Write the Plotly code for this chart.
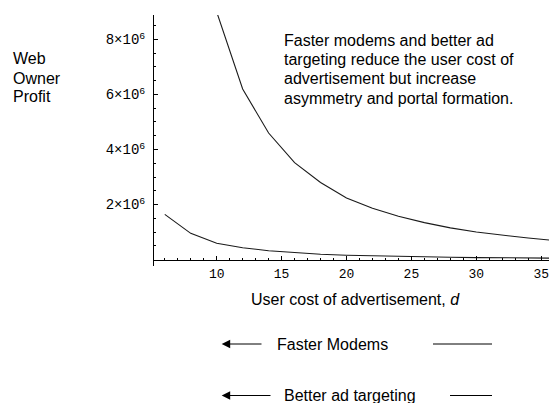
import plotly.graph_objects as go

# Data
d_upper = [10, 12, 14, 16, 18, 20, 22, 24, 26, 28, 30, 32, 34, 36]
profit_upper = [9.0e6, 6.2e6, 4.6e6, 3.52e6, 2.8e6, 2.24e6, 1.86e6, 1.57e6,
                1.34e6, 1.15e6, 1.0e6, 0.88e6, 0.78e6, 0.69e6]

d_lower = [6, 8, 10, 12, 14, 16, 18, 20, 22, 24, 26, 28, 30, 32, 34, 36]
profit_lower = [1.64e6, 0.95e6, 0.59e6, 0.43e6, 0.32e6, 0.25e6, 0.19e6, 0.155e6,
                0.13e6, 0.11e6, 0.095e6, 0.08e6, 0.07e6, 0.06e6, 0.055e6, 0.05e6]

x_ticks = [10, 15, 20, 25, 30, 35]
y_ticks = [2e6, 4e6, 6e6, 8e6]
y_ticktext = ["2×10<sup>6</sup>", "4×10<sup>6</sup>", "6×10<sup>6</sup>", "8×10<sup>6</sup>"]
x_minor = [v for v in range(6, 36) if v % 5 != 0]
y_minor = [v * 0.5e6 for v in range(1, 18) if v % 4 != 0]

W, H = 549, 403
def px(x):
    return x / W
def py(y):
    return 1 - y / H

fig = go.Figure()
fig.add_trace(go.Scatter(x=d_upper, y=profit_upper, mode="lines",
                         line=dict(color="#1a1a1a", width=1.1), showlegend=False))
fig.add_trace(go.Scatter(x=d_lower, y=profit_lower, mode="lines",
                         line=dict(color="#1a1a1a", width=1.1), showlegend=False))

xtickfont = dict(family="Liberation Mono", size=13, color="black")
ytickfont = dict(family="Liberation Mono", size=14, color="black")
textfont = dict(family="Liberation Sans, Arial", size=16, color="black")

zero_py = 259.5
fig.update_layout(
    width=W, height=H,
    margin=dict(l=0, r=0, t=0, b=0),
    paper_bgcolor="white", plot_bgcolor="white",
    xaxis=dict(
        domain=[px(154), 1.0],
        range=[5.17, 35.6],
        anchor="free", position=py(zero_py),
        showline=True, linecolor="black", linewidth=1,
        showgrid=False, zeroline=False,
        tickmode="array", tickvals=x_ticks, ticktext=[str(v) for v in x_ticks],
        ticks="inside", ticklen=4, tickcolor="black", tickwidth=1,
        minor=dict(tickmode="array", tickvals=x_minor, ticks="inside",
                   ticklen=2, tickcolor="black", tickwidth=1),
        tickfont=xtickfont, ticklabelstandoff=2, ticklabeloverflow="allow",
        automargin=False,
    ),
    yaxis=dict(
        domain=[py(266), py(15)],
        range=[-0.236e6, 8.89e6],
        showline=True, linecolor="black", linewidth=1,
        showgrid=False, zeroline=False,
        tickmode="array", tickvals=y_ticks, ticktext=y_ticktext,
        ticks="inside", ticklen=4, tickcolor="black", tickwidth=1,
        minor=dict(tickmode="array", tickvals=y_minor, ticks="inside",
                   ticklen=2, tickcolor="black", tickwidth=1),
        tickfont=ytickfont, ticklabelstandoff=5, ticklabeloverflow="allow",
        automargin=False,
    ),
)

ann = []
def txt(s, x, y, xanchor="left"):
    ann.append(dict(text=s, x=px(x), y=py(y), xref="paper", yref="paper",
                    xanchor=xanchor, yanchor="middle", showarrow=False,
                    font=textfont))

for s, y in zip(["Web", "Owner", "Profit"], [59, 78, 97]):
    txt(s, 11, y)

note = ["Faster modems and better ad",
        "targeting reduce the user cost of",
        "advertisement but increase",
        "asymmetry and portal formation."]
for i, s in enumerate(note):
    txt(s, 282, 40 + 19.5 * i)

txt("User cost of advertisement, <i>d</i>", 355, 299, xanchor="center")
txt("Faster Modems", 275, 344)
txt("Better ad targeting", 282, 395.5)

# arrows
for x0, x1, y in [(221.7, 263, 344), (221.7, 272, 395.5)]:
    ann.append(dict(text="", x=px(x0), y=py(y), xref="paper", yref="paper",
                    showarrow=True, ax=x1 - x0, ay=0, axref="pixel", ayref="pixel",
                    arrowhead=2, arrowsize=1.7, arrowwidth=1, arrowcolor="black",
                    standoff=0, startstandoff=0))
fig.update_layout(annotations=ann)

shapes = []
for x0, x1, y in [(433, 492, 344), (450, 492, 395.5)]:
    shapes.append(dict(type="line", xref="paper", yref="paper",
                       x0=px(x0), x1=px(x1), y0=py(y), y1=py(y),
                       line=dict(color="black", width=1)))
fig.update_layout(shapes=shapes)

fig.write_html("out.html", config={"displayModeBar": False},
               post_script="document.body.style.margin='0';document.body.style.overflow='hidden';")
